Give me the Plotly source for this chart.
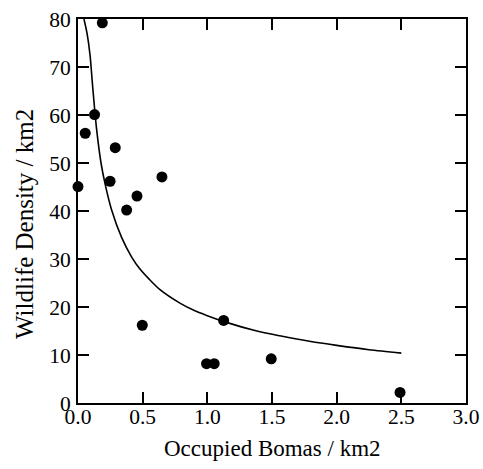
import plotly.graph_objects as go

# Observed points
bomas = [0.0, 0.056, 0.128, 0.188, 0.288, 0.248, 0.376, 0.456, 0.649, 0.497, 1.126, 0.994, 1.053, 1.494, 2.49]
wildlife = [45.1, 56.2, 60.1, 79.2, 53.2, 46.2, 40.2, 43.1, 47.1, 16.2, 17.2, 8.2, 8.2, 9.2, 2.2]

# Fitted curve
fit_x = [0.046, 0.07, 0.093, 0.11, 0.126, 0.144, 0.178, 0.209, 0.26, 0.337, 0.415, 0.479,
         0.55, 0.634, 0.788, 0.904, 1.0, 1.136, 1.368, 1.56, 1.8, 2.0, 2.25, 2.5]
fit_y = [80.0, 77.0, 72.5, 67.0, 62.0, 57.0, 50.0, 45.7, 40.2, 34.5, 30.4, 27.9,
         25.8, 23.6, 20.8, 19.2, 18.2, 16.9, 15.1, 14.0, 12.8, 12.0, 11.1, 10.4]

x_ticks = [0.0, 0.5, 1.0, 1.5, 2.0, 2.5, 3.0]
x_tick_text = ["0.0", "0.5", "1.0", "1.5", "2.0", "2.5", "3.0"]
y_ticks = [0, 10, 20, 30, 40, 50, 60, 70, 80]

x_title = "Occupied Bomas / km2"
y_title = "Wildlife Density / km2"

font = "Liberation Serif, Times New Roman, serif"

fig = go.Figure()
fig.add_trace(go.Scatter(x=fit_x, y=fit_y, mode="lines",
                         line=dict(color="black", width=1.6, shape="spline", smoothing=0.8),
                         showlegend=False, hoverinfo="skip"))
fig.add_trace(go.Scatter(x=bomas, y=wildlife, mode="markers",
                         marker=dict(color="black", size=11),
                         cliponaxis=False, showlegend=False))

axis_common = dict(showgrid=False, zeroline=False, showline=True, linecolor="black",
                   linewidth=2, mirror="ticks", ticks="inside", ticklen=11,
                   tickwidth=1.5, tickcolor="black", automargin=False,
                   ticklabeloverflow="allow",
                   tickfont=dict(family=font, size=21.5, color="black"))

fig.update_xaxes(range=[0, 3.0], tickvals=x_ticks, ticktext=x_tick_text,
                 ticklabelstandoff=-7, **axis_common)
fig.update_yaxes(range=[0, 80], tickvals=y_ticks, ticklabelstandoff=1,
                 **axis_common)

fig.add_annotation(text=x_title, showarrow=False,
                   xref="paper", yref="paper", x=0.5, y=0,
                   xanchor="center", yanchor="middle", yshift=-45,
                   font=dict(family=font, size=23, color="black"))
fig.add_annotation(text=y_title, textangle=-90, showarrow=False,
                   xref="paper", yref="paper", x=0, y=0.5,
                   xanchor="center", yanchor="middle", xshift=-54, yshift=-13,
                   font=dict(family=font, size=25, color="black"))

fig.update_layout(width=483, height=469, margin=dict(l=78, r=17, t=19, b=66),
                  paper_bgcolor="white", plot_bgcolor="white",
                  font=dict(family=font, color="black"))

fig.write_html("out.html", config={"displayModeBar": False},
               post_script="document.body.style.margin='0';")
